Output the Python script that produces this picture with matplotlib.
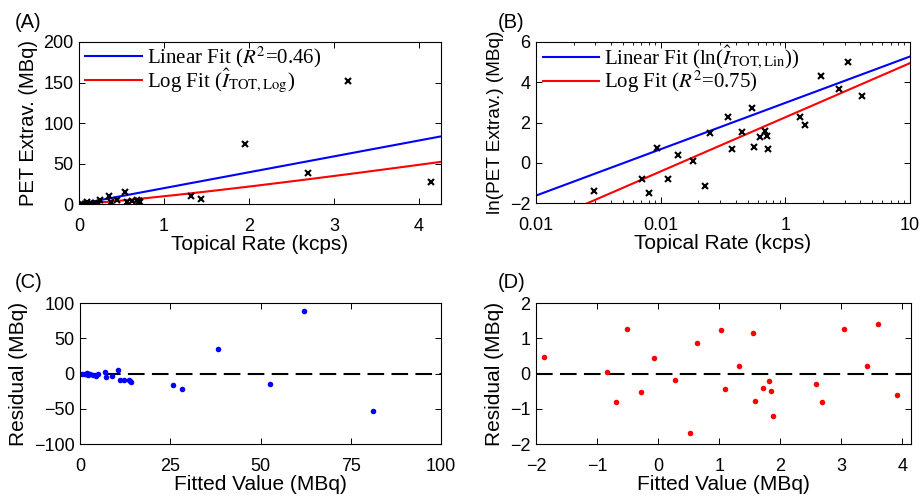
import numpy as np
import matplotlib
matplotlib.use("Agg")
import matplotlib.pyplot as plt

# values (panel B gives both coordinates)
topical_rate = [0.0293, 0.0704, 0.080, 0.0929, 0.1138, 0.137, 0.183, 0.226,
                0.248, 0.348, 0.371, 0.446, 0.543, 0.560, 0.625, 0.686,
                0.708, 0.721, 1.32, 1.435, 1.95, 2.69, 3.17, 4.14]
ln_pet = [-1.39, -0.79, -1.49, 0.74, -0.80, 0.37, 0.09, -1.17,
          1.50, 2.27, 0.67, 1.52, 2.71, 0.79, 1.30, 1.60,
          1.35, 0.67, 2.29, 1.88, 4.30, 3.64, 5.02, 3.31]

# fit coefficients as they appear in the figure
lin_slope = 19.6            # PET = b * rate
log_icpt, log_slope = 2.26, 1.168   # ln(PET) = a + c * ln(rate)

x = np.array(topical_rate)
lny = np.array(ln_pet)
pet = np.exp(lny)

lin_fitted = lin_slope * x
lin_resid = pet - lin_fitted
log_fitted = log_icpt + log_slope * np.log(x)
log_resid = lny - log_fitted

plt.rcParams['font.family'] = 'Liberation Sans'
plt.rcParams['mathtext.fontset'] = 'stix'
plt.rcParams['axes.linewidth'] = 0.8

fig = plt.figure(figsize=(9.21, 4.97), dpi=100)
axA = fig.add_axes([0.0858, 0.5895, 0.393, 0.326])
axB = fig.add_axes([0.582, 0.5915, 0.406, 0.324])
axC = fig.add_axes([0.0869, 0.1066, 0.392, 0.2837])
axD = fig.add_axes([0.582, 0.1066, 0.407, 0.2837])

for ax in (axA, axB, axC, axD):
    ax.tick_params(direction='in', top=True, right=True, length=4.5, width=0.7,
                   labelsize=13)
    ax.tick_params(axis='x', pad=10)
    ax.tick_params(axis='y', pad=4)
    ax.tick_params(which='minor', direction='in', top=True, right=True, length=2.5, width=0.6)

leg_font = {'family': 'Liberation Serif', 'size': 15}
leg_kw = dict(loc='upper left', bbox_to_anchor=(0.012, 1.0), frameon=False, prop=leg_font,
              handlelength=2.7, handletextpad=0.25, labelspacing=-0.12,
              borderaxespad=0.0, borderpad=0.1)

# (A)
xx = np.linspace(0, 4.26, 200)
axA.plot(xx, lin_slope * xx, color='b', lw=1.5, label=r'Linear Fit ($R^2$=0.46)')
axA.plot(xx, np.exp(log_icpt) * xx ** log_slope, color='r', lw=1.5,
         label=r'Log Fit ($\hat{I}_{\mathrm{TOT,Log}}$)')
axA.plot(x, pet, 'kx', ms=5, mew=1.5)
axA.set_xlim(0, 4.26)
axA.set_ylim(0, 200)
axA.set_xticks([0, 1, 2, 3, 4])
axA.set_yticks([0, 50, 100, 150, 200])
axA.set_xlabel('Topical Rate (kcps)', fontsize=15, labelpad=0)
axA.set_ylabel('PET Extrav. (MBq)', fontsize=14.5, labelpad=4)
axA.legend(**leg_kw)

# (B)
xl = np.logspace(-2, 1, 200)
axB.plot(xl, np.log(lin_slope * xl), color='b', lw=1.5,
         label=r'Linear Fit (ln($\hat{I}_{\mathrm{TOT,Lin}}$))')
axB.plot(xl, log_icpt + log_slope * np.log(xl), color='r', lw=1.5,
         label=r'Log Fit ($R^2$=0.75)')
axB.plot(x, lny, 'kx', ms=5, mew=1.5)
axB.set_xscale('log')
axB.set_xlim(0.01, 10)
axB.set_ylim(-2, 6)
axB.set_xticks([0.01, 0.1, 1, 10])
axB.set_xticklabels(['0.01', '0.01', '1', '10'])
axB.set_yticks([-2, 0, 2, 4, 6])
axB.set_xlabel('Topical Rate (kcps)', fontsize=15, labelpad=0)
axB.set_ylabel('ln(PET Extrav.) (MBq)', fontsize=13.7, labelpad=4)
axB.legend(**leg_kw)

# (C)
axC.axhline(0, color='k', lw=1.5, linestyle=(0, (8, 3.5)))
axC.plot(lin_fitted, lin_resid, 'o', color='b', ms=4, mew=0)
axC.set_xlim(0, 100)
axC.set_ylim(-100, 100)
axC.set_xticks([0, 25, 50, 75, 100])
axC.set_yticks([-100, -50, 0, 50, 100])
axC.set_xlabel('Fitted Value (MBq)', fontsize=15, labelpad=0)
axC.set_ylabel('Residual (MBq)', fontsize=15, labelpad=4)

# (D)
axD.axhline(0, color='k', lw=1.5, linestyle=(0, (8, 3.5)))
axD.plot(log_fitted, log_resid, 'o', color='r', ms=4, mew=0)
axD.set_xlim(-2, 4.14)
axD.set_ylim(-2, 2)
axD.set_xticks([-2, -1, 0, 1, 2, 3, 4])
axD.set_yticks([-2, -1, 0, 1, 2])
axD.set_xlabel('Fitted Value (MBq)', fontsize=15, labelpad=0)
axD.set_ylabel('Residual (MBq)', fontsize=15, labelpad=4)

for lab, px, py in [('(A)', 15, 22), ('(B)', 498, 22), ('(C)', 15, 283), ('(D)', 498, 283)]:
    fig.text(px / 921, 1 - py / 497, lab, fontsize=14.5, ha='left', va='center')

fig.savefig('out.png', dpi=100)
